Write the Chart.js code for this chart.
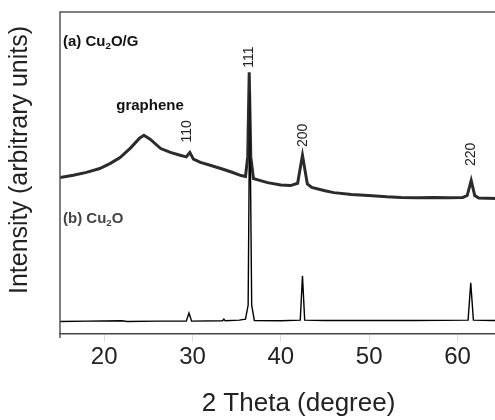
<!DOCTYPE html>
<html>
<head>
<meta charset="utf-8">
<script src="https://cdn.jsdelivr.net/npm/chart.js@4.4.1/dist/chart.umd.min.js"></script>
<style>
  html, body { margin: 0; padding: 0; background: #fff; overflow: hidden; }
  #wrap { width: 537px; height: 420px; }
</style>
</head>
<body>
<div id="wrap"><canvas id="c" width="537" height="420"></canvas></div>
<script>
// ---- Data ----
const xTicks = [20, 30, 40, 50, 60];

// (a) Cu2O/G  : 2-theta and intensity (arbitrary units)
const thetaA = [15, 16.5, 18, 19.5, 20.7, 21.8, 23.0, 24.0, 24.5, 25.2, 26.4, 27.5, 28.6, 29.3, 29.7, 30.1, 30.9, 32.0, 33.2, 34.4, 35.5, 36.0, 36.25, 36.42, 36.6, 36.9, 37.5, 38.5, 40.0, 41.1, 41.9, 42.45, 43.0, 43.5, 45.0, 46.0, 48.0, 49.9, 52.0, 53.6, 55.5, 57.4, 59.0, 60.6, 61.1, 61.55, 61.95, 62.4, 64.4, 66.0, 69.0];
const intA   = [48.6, 49.3, 50.2, 51.4, 53.0, 54.8, 57.8, 60.8, 61.7, 60.5, 57.6, 56.4, 55.5, 55.0, 56.4, 54.3, 53.3, 52.4, 51.4, 50.3, 49.2, 48.9, 55.0, 81.3, 55.0, 48.3, 47.8, 47.0, 46.3, 46.1, 46.8, 55.5, 46.6, 45.5, 44.5, 43.9, 43.3, 43.0, 42.6, 42.4, 42.3, 42.4, 42.3, 42.4, 43.0, 47.7, 43.0, 42.2, 42.1, 42.0, 41.9];

// (b) Cu2O
const thetaB = [15, 18.0, 22.0, 22.6, 26.0, 29.3, 29.6, 29.9, 33.4, 33.55, 33.7, 35.3, 36.0, 36.3, 36.48, 36.7, 37.0, 40.0, 42.2, 42.45, 42.7, 45.0, 50.0, 55.0, 61.2, 61.5, 61.8, 64.0, 69.0];
const intB   = [3.9, 4.0, 4.1, 3.9, 4.0, 4.0, 6.5, 4.0, 4.1, 4.6, 4.1, 4.3, 4.6, 9.0, 74.8, 9.0, 4.2, 4.1, 4.3, 18.1, 4.3, 4.2, 4.2, 4.2, 4.3, 15.9, 4.3, 4.2, 4.2];

// peak / sample labels
const peakLabels = ['110', '111', '200', '220'];
const peakLabelTheta = [29.4, 36.36, 42.5, 61.5];
const peakLabelInt = [62.9, 86.0, 61.7, 55.8];

const toPts = (xs, ys) => xs.map((x, i) => ({ x: x, y: ys[i] }));

const textPlugin = {
  id: 'texts',
  afterDatasetsDraw(chart) {
    const ctx = chart.ctx;
    const a = chart.chartArea;
    const xs = chart.scales.x, ys = chart.scales.y;
    ctx.save();
    // frame: left and top borders
    ctx.strokeStyle = '#555';
    ctx.lineWidth = 1.5;
    ctx.beginPath();
    ctx.moveTo(a.left, a.bottom + 4);
    ctx.lineTo(a.left, a.top);
    ctx.lineTo(a.right, a.top);
    ctx.stroke();

    // y axis title
    ctx.fillStyle = '#222';
    ctx.font = '25px "Liberation Sans", Arial, sans-serif';
    ctx.textAlign = 'center';
    ctx.textBaseline = 'middle';
    ctx.save();
    ctx.translate(20, 160);
    ctx.rotate(-Math.PI / 2);
    ctx.fillText('Intensity (arbitrary units)', 0, 0);
    ctx.restore();

    // sample labels with subscript
    function subLabel(parts, x, y, size, color) {
      ctx.fillStyle = color;
      ctx.textAlign = 'left';
      ctx.textBaseline = 'alphabetic';
      let cx = x;
      parts.forEach(p => {
        const s = p.sub ? size * 0.65 : size;
        ctx.font = 'bold ' + s + 'px "Liberation Sans", Arial, sans-serif';
        ctx.fillText(p.t, cx, p.sub ? y + size * 0.2 : y);
        cx += ctx.measureText(p.t).width;
      });
    }
    subLabel([{t: '(a) Cu'}, {t: '2', sub: true}, {t: 'O/G'}], a.left + 3, a.top + 34, 15, '#111');
    subLabel([{t: '(b) Cu'}, {t: '2', sub: true}, {t: 'O'}], a.left + 3, a.top + 211, 15, '#444');

    ctx.fillStyle = '#111';
    ctx.font = 'bold 15px "Liberation Sans", Arial, sans-serif';
    ctx.textAlign = 'center';
    ctx.textBaseline = 'middle';
    ctx.fillText('graphene', a.left + 90, a.top + 94);

    // rotated peak labels
    ctx.font = '14px "Liberation Sans", Arial, sans-serif';
    ctx.fillStyle = '#222';
    peakLabels.forEach((lab, i) => {
      const px = xs.getPixelForValue(peakLabelTheta[i]);
      const py = ys.getPixelForValue(peakLabelInt[i]);
      ctx.save();
      ctx.translate(px, py);
      ctx.rotate(-Math.PI / 2);
      ctx.textAlign = 'center';
      ctx.textBaseline = 'middle';
      ctx.fillText(lab, 0, 0);
      ctx.restore();
    });
    ctx.restore();
  }
};

new Chart(document.getElementById('c'), {
  type: 'line',
  data: {
    datasets: [
      { label: '(a) Cu2O/G', data: toPts(thetaA, intA), borderColor: 'rgba(25,25,25,0.92)', borderWidth: 3, pointRadius: 0, tension: 0, fill: false },
      { label: '(b) Cu2O', data: toPts(thetaB, intB), borderColor: '#000', borderWidth: 1.4, pointRadius: 0, tension: 0, fill: false }
    ]
  },
  options: {
    responsive: false,
    animation: false,
    layout: { padding: { left: 60, top: 12, right: 0, bottom: 0 } },
    plugins: { legend: { display: false }, tooltip: { enabled: false } },
    scales: {
      x: {
        type: 'linear',
        min: 15, max: 69,
        afterBuildTicks: (axis) => { axis.ticks = xTicks.map(v => ({ value: v })); },
        afterFit: (axis) => { axis.height = 86; },
        ticks: { color: '#222', font: { size: 24, family: '"Liberation Sans", Arial, sans-serif' }, padding: 1, maxRotation: 0 },
        grid: { display: true, drawOnChartArea: false, drawTicks: true, tickLength: 8, color: '#ddd' },
        border: { display: true, color: '#444', width: 1.5 },
        title: { display: true, text: '2 Theta (degree)', color: '#222', font: { size: 26, family: '"Liberation Sans", Arial, sans-serif' }, padding: { top: 10, bottom: 1 } }
      },
      y: {
        display: false,
        min: 0, max: 100
      }
    }
  },
  plugins: [textPlugin]
});
</script>
</body>
</html>
